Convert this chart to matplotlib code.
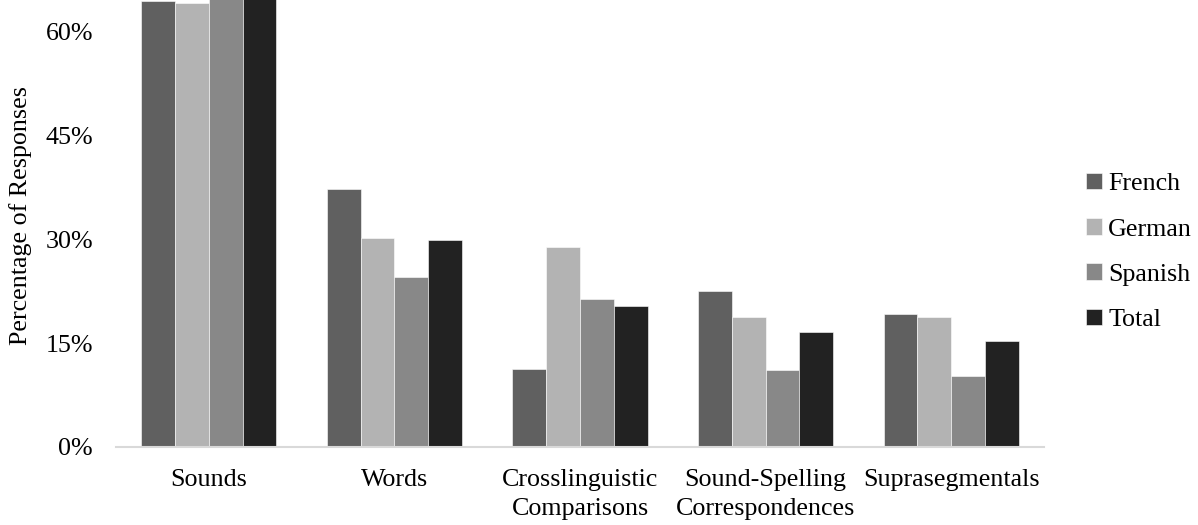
import matplotlib.pyplot as plt
import numpy as np

categories = ["Sounds", "Words", "Crosslinguistic\nComparisons",
              "Sound-Spelling\nCorrespondences", "Suprasegmentals"]
languages = ["French", "German", "Spanish", "Total"]
french = [64.4, 37.3, 11.2, 22.6, 19.2]
german = [64.1, 30.2, 28.9, 18.8, 18.8]
spanish = [65.0, 24.5, 21.4, 11.1, 10.2]
total = [65.0, 29.9, 20.4, 16.6, 15.3]
colors = ["#606060", "#b3b3b3", "#888888", "#222222"]

plt.rcParams['font.family'] = ['Liberation Serif', 'DejaVu Serif']
plt.rcParams['font.size'] = 18.7

fig = plt.figure(figsize=(11.98, 5.25), dpi=100)
ax = fig.add_axes([0.0968, 0.1486, 0.8715 - 0.0968, 0.8514])

x = np.arange(len(categories))
width = 0.182
series = [french, german, spanish, total]
for i, (name, vals) in enumerate(zip(languages, series)):
	ax.bar(x + (i - 1.5) * width, vals, width, color=colors[i], label=name,
	       edgecolor='white', linewidth=0.4)

ax.set_xlim(-0.5, len(categories) - 0.5)
ax.set_ylim(0, 64.6)
ax.set_yticks([0, 15, 30, 45, 60])
ax.set_yticklabels(["0%", "15%", "30%", "45%", "60%"])
ax.set_xticks(x)
ax.set_xticklabels(categories, linespacing=1.4)
ax.tick_params(length=0)
ax.tick_params(axis='x', pad=16)
ax.tick_params(axis='y', pad=16.5)
for side in ['top', 'right', 'left']:
	ax.spines[side].set_visible(False)
ax.spines['bottom'].set_color('#d9d9d9')
ax.spines['bottom'].set_linewidth(1.5)
ax.set_ylabel("Percentage of Responses")
ax.yaxis.set_label_coords(-0.0905, 0.517)

fig.legend(loc='center left', bbox_to_anchor=(0.898, 0.52), frameon=False,
           handlelength=0.6, handleheight=0.6, handletextpad=0.25,
           labelspacing=0.88, borderaxespad=0)

fig.savefig("out.png", dpi=100)
